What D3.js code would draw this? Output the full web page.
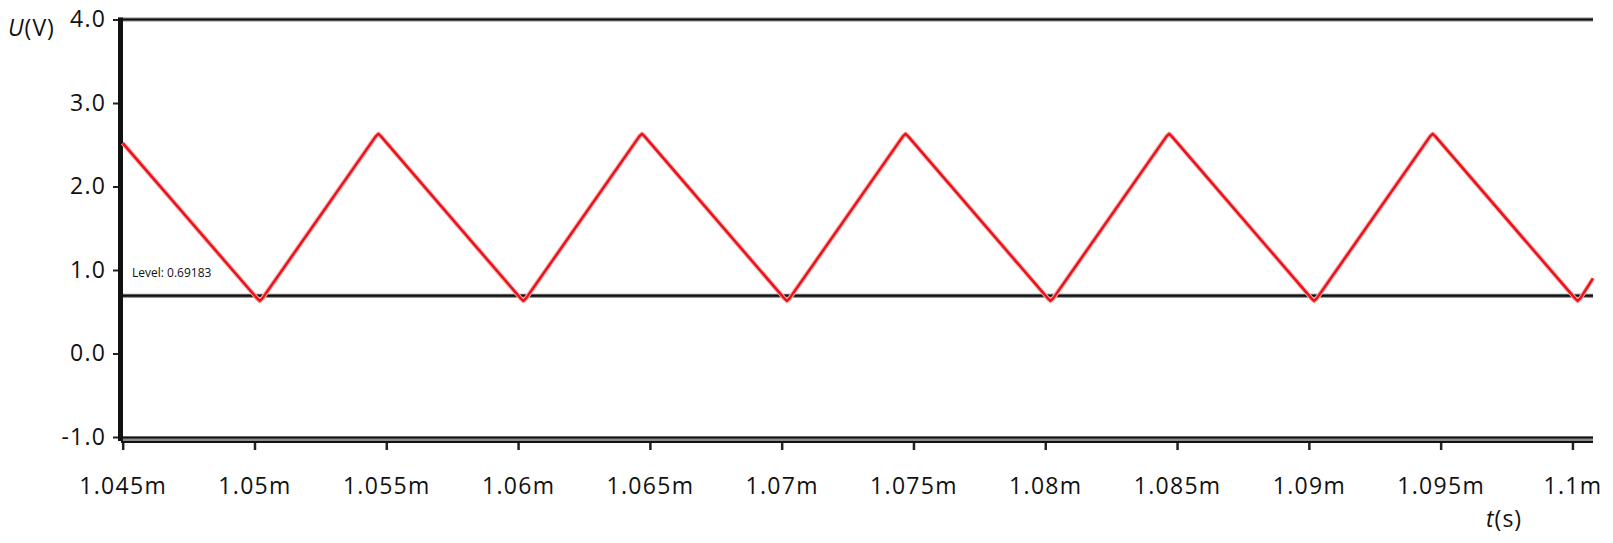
<!DOCTYPE html>
<html><head><meta charset="utf-8">
<script src="https://cdn.jsdelivr.net/npm/d3@7"></script>
<style>
html,body{margin:0;padding:0;background:#fff;}
svg{display:block;}
</style></head>
<body>
<svg id="chart" width="1613" height="543"></svg>
<script>
// ---- data ----
const xTicks = [1.045, 1.05, 1.055, 1.06, 1.065, 1.07, 1.075, 1.08, 1.085, 1.09, 1.095, 1.1];
const xTickLabels = ["1.045m","1.05m","1.055m","1.06m","1.065m","1.07m","1.075m","1.08m","1.085m","1.09m","1.095m","1.1m"];
const yTicks = [-1, 0, 1, 2, 3, 4];
const yTickLabels = ["-1.0","0.0","1.0","2.0","3.0","4.0"];
const timeMs = [
  1.045,
  1.0501, 1.0502, 1.0503,
  1.0546, 1.0547, 1.0548,
  1.0601, 1.0602, 1.0603,
  1.0646, 1.0647, 1.0648,
  1.0701, 1.0702, 1.0703,
  1.0746, 1.0747, 1.0748,
  1.0801, 1.0802, 1.0803,
  1.0846, 1.0847, 1.0848,
  1.0901, 1.0902, 1.0903,
  1.0946, 1.0947, 1.0948,
  1.1001, 1.1002, 1.1003,
  1.10078
];
const voltage = [
  2.52,
  0.66, 0.63, 0.66,
  2.60, 2.63, 2.60,
  0.66, 0.63, 0.66,
  2.60, 2.63, 2.60,
  0.66, 0.63, 0.66,
  2.60, 2.63, 2.60,
  0.66, 0.63, 0.66,
  2.60, 2.63, 2.60,
  0.66, 0.63, 0.66,
  2.60, 2.63, 2.60,
  0.66, 0.63, 0.66,
  0.90
];
const levelValue = 0.69183;
const levelLabel = "Level: 0.69183";

// ---- chart ----
const svg = d3.select("#chart");
const font = "'Open Sans', sans-serif";
const x = d3.scaleLinear().domain([1.045, 1.10078]).range([122.7, 1593]);
const y = d3.scaleLinear().domain([-1, 4]).range([437, 19.5]);

// top border line
svg.append("line").attr("x1", 118).attr("x2", 1593).attr("y1", 19.5).attr("y2", 19.5)
  .attr("stroke", "#888").attr("stroke-width", 4);
svg.append("line").attr("x1", 118).attr("x2", 1593).attr("y1", 19.5).attr("y2", 19.5)
  .attr("stroke", "#111").attr("stroke-width", 2);

// bottom double line
svg.append("rect").attr("x", 121).attr("y", 436.5).attr("width", 1593 - 121).attr("height", 6.5).attr("fill", "#8a8a8a");
svg.append("line").attr("x1", 121).attr("x2", 1593).attr("y1", 437.5).attr("y2", 437.5).attr("stroke", "#111").attr("stroke-width", 2);
svg.append("line").attr("x1", 121).attr("x2", 1593).attr("y1", 442).attr("y2", 442).attr("stroke", "#111").attr("stroke-width", 2);

// x axis ticks + labels
const xAxis = d3.axisBottom(x).tickValues(xTicks).tickSize(7).tickPadding(28)
  .tickFormat((d, i) => xTickLabels[i]);
const gx = svg.append("g").attr("transform", "translate(0,443)").call(xAxis);
gx.select(".domain").remove();
gx.selectAll(".tick line").attr("stroke", "#222").attr("stroke-width", 2.5);
gx.selectAll(".tick text").attr("font-family", font).attr("font-size", 23)
  .attr("letter-spacing", 1.3).attr("fill", "#111");

// y axis
const yAxis = d3.axisLeft(y).tickValues(yTicks).tickSize(5).tickPadding(7)
  .tickFormat((d, i) => yTickLabels[i]);
const gy = svg.append("g").attr("transform", "translate(118,0)").call(yAxis);
gy.select(".domain").remove();
gy.selectAll(".tick line").attr("stroke", "#222").attr("stroke-width", 2);
gy.selectAll(".tick text").attr("font-family", font).attr("font-size", 23)
  .attr("letter-spacing", 1.2).attr("fill", "#111");

// thick vertical axis line
svg.append("line").attr("x1", 120.5).attr("x2", 120.5).attr("y1", 17.5).attr("y2", 441)
  .attr("stroke", "#111").attr("stroke-width", 5);

// level line
svg.append("line").attr("x1", 123).attr("x2", 1593).attr("y1", y(levelValue)).attr("y2", y(levelValue))
  .attr("stroke", "#777").attr("stroke-width", 4);
svg.append("line").attr("x1", 123).attr("x2", 1593).attr("y1", y(levelValue)).attr("y2", y(levelValue))
  .attr("stroke", "#111").attr("stroke-width", 2);
svg.append("text").attr("x", 132).attr("y", y(levelValue) - 19)
  .attr("font-family", font).attr("font-size", 12).attr("fill", "#111").text(levelLabel);

// waveform
const pts = timeMs.map((t, i) => [t, voltage[i]]);
const line = d3.line().x(d => x(d[0])).y(d => y(d[1])).curve(d3.curveLinear);
svg.append("path").datum(pts).attr("d", line).attr("fill", "none")
  .attr("stroke", "#ffa8a8").attr("stroke-width", 4.5).attr("stroke-linejoin", "round");
svg.append("path").datum(pts).attr("d", line).attr("fill", "none")
  .attr("stroke", "#e8141c").attr("stroke-width", 2.5).attr("stroke-linejoin", "round");

// axis titles
const yt = svg.append("text").attr("x", 8).attr("y", 36).attr("font-family", font).attr("font-size", 23)
  .attr("letter-spacing", 1).attr("fill", "#111");
yt.append("tspan").attr("font-style", "italic").text("U");
yt.append("tspan").text("(V)");
const xt = svg.append("text").attr("x", 1486).attr("y", 527).attr("font-family", font).attr("font-size", 23)
  .attr("letter-spacing", 1).attr("fill", "#111");
xt.append("tspan").attr("font-style", "italic").text("t");
xt.append("tspan").text("(s)");
</script>
</body></html>
